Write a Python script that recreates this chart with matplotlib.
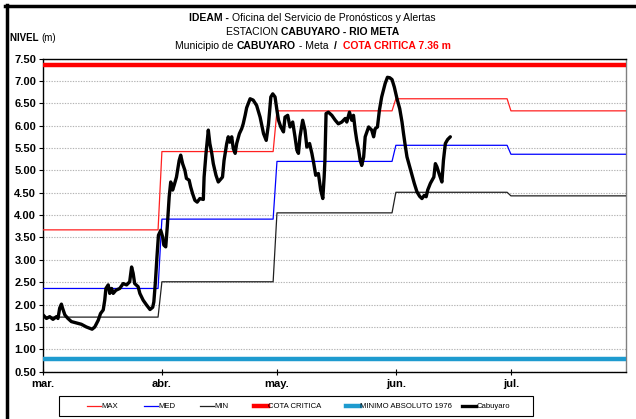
import numpy as np
import matplotlib
matplotlib.use('Agg')
import matplotlib.pyplot as plt
from matplotlib.lines import Line2D
from matplotlib.patches import Rectangle
from matplotlib import font_manager

_names = {f.name for f in font_manager.fontManager.ttflist}
FONT = 'Liberation Sans Narrow' if 'Liberation Sans Narrow' in _names else 'Liberation Sans'
plt.rcParams['font.family'] = [FONT, 'DejaVu Sans']

# ---- data -----------------------------------------------------------------
START = np.datetime64('2012-03-01')
END = np.datetime64('2012-07-31')
month_starts = ['2012-03-01', '2012-04-01', '2012-05-01', '2012-06-01', '2012-07-01']
month_labels = ['mar.', 'abr.', 'may.', 'jun.', 'jul.']

# monthly historical levels (m)
nivel_max = [3.67, 5.42, 6.33, 6.60, 6.33]
nivel_med = [2.36, 3.91, 5.20, 5.56, 5.36]
nivel_min = [1.72, 2.51, 4.05, 4.51, 4.43]

cota_critica = 7.36
minimo_absoluto = 0.78

# observed level at Cabuyaro (days since 1 March, m)
cabuyaro_dia = [0.0, 0.9, 1.75, 2.6, 3.5, 3.9, 4.35, 4.8, 5.1, 5.7, 6.5, 7.4, 8.7, 10.0,
                11.3, 12.8, 13.5, 14.4, 15.0, 15.7, 16.1, 16.4, 17.0, 17.4, 17.9, 18.3,
                19.0, 20.0, 20.9, 21.8, 22.6, 23.1, 23.5, 23.9, 24.8, 25.25, 26.1, 27.0,
                27.9, 28.6, 28.9, 29.3, 29.7, 30.1, 30.7, 31.2, 31.5, 32.0, 32.4, 32.9,
                33.3, 33.8, 34.2, 34.8, 35.5, 35.9, 36.4, 37.0, 37.4, 38.1, 38.5, 39.0,
                39.6, 40.2, 40.9, 41.8, 42.0, 42.5, 43.1, 43.5, 44.0, 44.4, 45.1, 45.7,
                46.1, 46.8, 47.2, 47.9, 48.3, 48.7, 49.2, 49.6, 50.1, 50.5, 51.2, 51.8,
                52.2, 52.7, 53.1, 54.0, 54.8, 55.7, 56.6, 57.5, 58.2, 58.8, 59.4, 59.9,
                60.5, 61.0, 61.4, 62.0, 62.7, 63.1, 63.8, 64.4, 65.1, 65.7, 66.2, 66.6,
                67.0, 67.7, 68.3, 68.8, 69.5, 70.1, 70.6, 71.1, 71.8, 72.4, 72.95, 73.3,
                73.5, 73.8, 74.4, 75.3, 76.2, 77.0, 77.9, 78.8, 79.2, 79.9, 80.5, 80.95,
                81.4, 81.8, 82.3, 82.7, 83.1, 83.6, 84.0, 84.9, 85.7, 86.2, 86.6, 87.2,
                87.7, 88.3, 89.2, 89.8, 90.4, 91.0, 91.6, 92.3, 93.0, 93.6, 94.0, 94.5,
                94.9, 95.6, 96.2, 96.8, 97.5, 98.2, 98.8, 99.4, 99.9, 100.3, 101.0, 101.9,
                102.3, 102.7, 103.4, 104.0, 104.4, 104.9, 105.5, 106.2]
cabuyaro_nivel = [1.77, 1.69, 1.73, 1.67, 1.73, 1.69, 1.92, 2.01, 1.92, 1.77, 1.69, 1.62,
                  1.59, 1.56, 1.50, 1.45, 1.50, 1.65, 1.80, 1.88, 2.10, 2.36, 2.44, 2.25,
                  2.36, 2.25, 2.32, 2.36, 2.47, 2.44, 2.51, 2.84, 2.70, 2.47, 2.40, 2.25,
                  2.10, 1.99, 1.89, 1.94, 2.06, 2.50, 3.05, 3.55, 3.66, 3.51, 3.33, 3.29,
                  3.74, 4.41, 4.74, 4.56, 4.67, 4.85, 5.22, 5.34, 5.15, 5.00, 4.82, 4.78,
                  4.63, 4.48, 4.33, 4.29, 4.37, 4.35, 4.85, 5.38, 5.90, 5.60, 5.38, 5.15,
                  4.89, 4.74, 4.78, 4.85, 5.22, 5.60, 5.75, 5.63, 5.75, 5.49, 5.38, 5.60,
                  5.82, 5.93, 6.04, 6.23, 6.40, 6.60, 6.57, 6.45, 6.19, 5.82, 5.67, 6.04,
                  6.64, 6.71, 6.64, 6.34, 6.12, 5.97, 5.86, 6.19, 6.23, 5.97, 6.08, 5.75,
                  5.45, 5.38, 5.75, 6.12, 5.90, 5.52, 5.60, 5.38, 5.15, 4.89, 4.93, 4.56,
                  4.37, 4.85, 5.22, 6.27, 6.30, 6.23, 6.12, 6.04, 6.08, 6.16, 6.08, 6.30,
                  6.12, 6.23, 5.90, 5.67, 5.45, 5.22, 5.11, 5.30, 5.75, 5.97, 5.90, 5.75,
                  5.93, 5.97, 6.34, 6.64, 6.94, 7.08, 7.07, 7.03, 6.86, 6.60, 6.38, 6.08,
                  5.82, 5.52, 5.30, 5.08, 4.89, 4.71, 4.52, 4.42, 4.37, 4.44, 4.41, 4.56,
                  4.71, 4.85, 5.15, 5.08, 4.89, 4.74, 5.22, 5.60, 5.69, 5.75]

# ---- derived daily series -------------------------------------------------
ms = np.array(month_starts, dtype='datetime64[D]')
month_pos = (ms - START).astype(int)
days = np.arange(0, int((END - START).astype(int)) + 1)
month_idx = np.searchsorted(month_pos, days, side='right') - 1
serie_max = np.array(nivel_max)[month_idx]
serie_med = np.array(nivel_med)[month_idx]
serie_min = np.array(nivel_min)[month_idx]

C_MAX, C_MED, C_MIN = '#FF2020', '#0000FF', '#202020'
C_COTA, C_MINABS, C_OBS = '#FF0000', '#1E9BCF', 'black'

# ---- figure ---------------------------------------------------------------
W, H = 636, 419
fig = plt.figure(figsize=(W / 100, H / 100), dpi=100)
ax = fig.add_axes([43 / W, 1 - 371.7 / H, (626 - 43) / W, (371.7 - 58.5) / H])

ax.plot(days, serie_max, color=C_MAX, lw=0.9, zorder=3)
ax.plot(days, serie_med, color=C_MED, lw=0.9, zorder=3)
ax.plot(days, serie_min, color=C_MIN, lw=0.9, zorder=3)
ax.axhline(cota_critica, color=C_COTA, lw=3.2, zorder=3)
ax.axhline(minimo_absoluto, color=C_MINABS, lw=3.2, zorder=3)
ax.plot(cabuyaro_dia, cabuyaro_nivel, color=C_OBS, lw=2.4,
        solid_joinstyle='round', solid_capstyle='round', zorder=4)

ax.set_xlim(0, days[-1])
ax.set_ylim(0.5, 7.5)
ax.set_yticks(np.arange(0.5, 7.51, 0.5))
ax.set_yticklabels([f'{v:.2f}' for v in np.arange(0.5, 7.51, 0.5)],
                   fontsize=8, fontweight='bold')
ax.set_xticks(month_pos)
ax.set_xticklabels(month_labels, fontsize=8, fontweight='bold')
ax.tick_params(axis='y', direction='out', length=3, width=0.8, pad=2)
ax.tick_params(axis='x', direction='inout', length=5, width=0.8, pad=3)
ax.yaxis.grid(True, linestyle=(0, (1.2, 1.2)), color='#b4b4b4', lw=0.8, zorder=0)

for side in ('left', 'bottom', 'top'):
    ax.spines[side].set_color('black')
    ax.spines[side].set_linewidth(1.0)
ax.spines['right'].set_color('#808080')
ax.spines['right'].set_linewidth(1.0)

# ---- titles ---------------------------------------------------------------
renderer = fig.canvas.get_renderer()


def rich_line(y_px, parts, size, cx_px=None, lx_px=None):
    texts = [fig.text(0, 1 - y_px / H, s, fontsize=size, fontweight=w, color=c,
                      ha='left', va='baseline') for s, w, c in parts]
    widths = [t.get_window_extent(renderer).width for t in texts]
    x = lx_px if lx_px is not None else cx_px - sum(widths) / 2
    for t, w in zip(texts, widths):
        t.set_x(x / W)
        x += w


TS = 7.5
rich_line(21, [('IDEAM - ', 'bold', 'black'),
               ('Oficina del Servicio de Pronósticos y Alertas', 'normal', 'black')],
          TS, cx_px=312)
rich_line(35, [('ESTACION ', 'normal', 'black'),
               ('CABUYARO - RIO META', 'bold', 'black')], TS, cx_px=313)
rich_line(49, [('Municipio de ', 'normal', 'black'), ('CABUYARO', 'bold', 'black'),
               (' - Meta  ', 'normal', 'black'), ('/  ', 'bold', 'black'),
               ('COTA CRITICA 7.36 m', 'bold', C_COTA)], TS, cx_px=313)
rich_line(41, [('NIVEL ', 'bold', 'black'), ('(m)', 'normal', 'black')], 7, lx_px=10)

# ---- legend ---------------------------------------------------------------
fig.add_artist(Rectangle((59.5 / W, 1 - 416 / H), (533 - 59.5) / W, 20 / H,
                         transform=fig.transFigure, facecolor='white',
                         edgecolor='black', lw=0.8))
legend_items = [('MAX', C_MAX, 0.9, 87), ('MED', C_MED, 0.9, 143.5),
                ('MIN', C_MIN, 0.9, 200), ('COTA CRITICA', C_COTA, 3.2, 253.5),
                ('MINIMO ABSOLUTO 1976', C_MINABS, 3.2, 345.5),
                ('Cabuyaro', C_OBS, 2.4, 462)]
ly = 1 - 406 / H
for label, color, lw, x0 in legend_items:
    fig.add_artist(Line2D([x0 / W, (x0 + 14) / W], [ly, ly], color=color, lw=lw,
                          transform=fig.transFigure))
    fig.text((x0 + 14.5) / W, ly, label, fontsize=5.6, ha='left', va='center')

# ---- outer frame ----------------------------------------------------------
fig.add_artist(Line2D([5 / W, 1], [1 - 6.5 / H, 1 - 6.5 / H], color='black', lw=2.5,
                      transform=fig.transFigure))
fig.add_artist(Line2D([6.5 / W, 6.5 / W], [0, 1 - 5.5 / H], color='black', lw=2.5,
                      transform=fig.transFigure))

fig.savefig('out.png', dpi=100)
